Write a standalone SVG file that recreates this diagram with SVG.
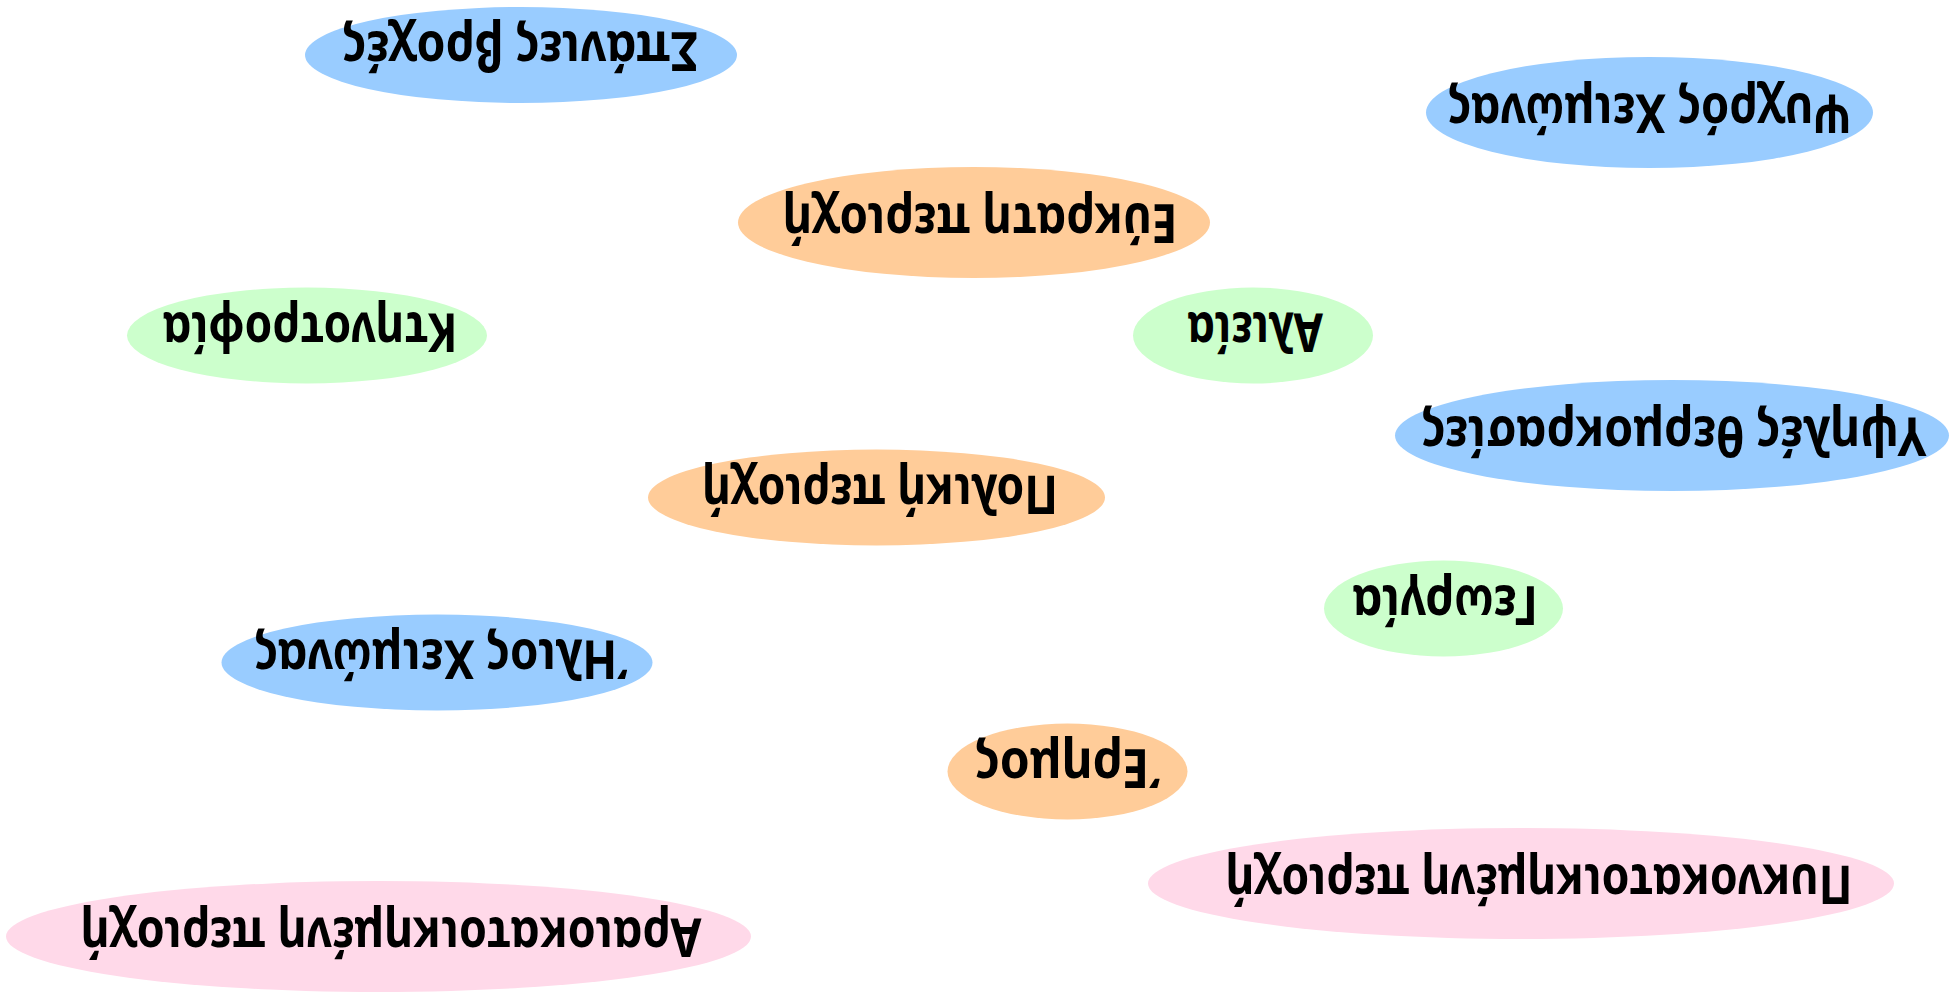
<svg xmlns="http://www.w3.org/2000/svg" width="1955" height="993" viewBox="0 0 1955 993">
<style>
.lbl{font-family:"Noto Sans","Open Sans",sans-serif;font-weight:700;font-size:54px;text-anchor:middle;fill:#000}
.blue{fill:#99ccff}.orange{fill:#ffcc99}.green{fill:#ccffcc}.pink{fill:#ffd9e9}
</style>
<rect width="1955" height="993" fill="#ffffff"/>
<g id="connectors"/>
<g id="n1" transform="rotate(180 521 55)"><ellipse class="blue" cx="521" cy="55" rx="216" ry="48"/><text class="lbl" x="522" y="78" textLength="355" lengthAdjust="spacingAndGlyphs">Σπάνιες βροχές</text></g>
<g id="n2" transform="rotate(180 1649.5 112.5)"><ellipse class="blue" cx="1649.5" cy="112.5" rx="223.5" ry="55.5"/><text class="lbl" x="1649" y="131.5" textLength="404" lengthAdjust="spacingAndGlyphs">Ψυχρός Χειμώνας</text></g>
<g id="n3" transform="rotate(180 974 222.5)"><ellipse class="orange" cx="974" cy="222.5" rx="236" ry="55.5"/><text class="lbl" x="968" y="241.5" textLength="395" lengthAdjust="spacingAndGlyphs">Εύκρατη περιοχή</text></g>
<g id="n4" transform="rotate(180 307 335.5)"><ellipse class="green" cx="307" cy="335.5" rx="180" ry="48"/><text class="lbl" x="304" y="358.5" textLength="295" lengthAdjust="spacingAndGlyphs">Κτηνοτροφία</text></g>
<g id="n5" transform="rotate(180 1253 335.5)"><ellipse class="green" cx="1253" cy="335.5" rx="120" ry="48"/><text class="lbl" x="1251" y="358.5" textLength="136" lengthAdjust="spacingAndGlyphs">Αλιεία</text></g>
<g id="n6" transform="rotate(180 1672 435.5)"><ellipse class="blue" cx="1672" cy="435.5" rx="277" ry="55.5"/><text class="lbl" x="1670" y="454.5" textLength="505" lengthAdjust="spacingAndGlyphs">Υψηλές θερμοκρασίες</text></g>
<g id="n7" transform="rotate(180 876.5 497.5)"><ellipse class="orange" cx="876.5" cy="497.5" rx="228.5" ry="48"/><text class="lbl" x="873" y="520.5" textLength="356" lengthAdjust="spacingAndGlyphs">Πολική περιοχή</text></g>
<g id="n8" transform="rotate(180 1443.5 608.5)"><ellipse class="green" cx="1443.5" cy="608.5" rx="119.5" ry="48"/><text class="lbl" x="1442" y="631.5" textLength="186" lengthAdjust="spacingAndGlyphs">Γεωργία</text></g>
<g id="n9" transform="rotate(180 437 662.5)"><ellipse class="blue" cx="437" cy="662.5" rx="215.5" ry="48"/><text class="lbl" x="433" y="685.5" textLength="373" lengthAdjust="spacingAndGlyphs">Ήλιος Χειμώνας</text></g>
<g id="n10" transform="rotate(180 1067.5 771.5)"><ellipse class="orange" cx="1067.5" cy="771.5" rx="120" ry="48"/><text class="lbl" x="1067.5" y="794.5" textLength="185" lengthAdjust="spacingAndGlyphs">Έρημος</text></g>
<g id="n11" transform="rotate(180 1521 883.5)"><ellipse class="pink" cx="1521" cy="883.5" rx="373" ry="55.5"/><text class="lbl" x="1503" y="902.5" textLength="627" lengthAdjust="spacingAndGlyphs">Πυκνοκατοικημένη περιοχή</text></g>
<g id="n12" transform="rotate(180 378.5 936.5)"><ellipse class="pink" cx="378.5" cy="936.5" rx="372.5" ry="55.5"/><text class="lbl" x="366" y="955.5" textLength="621" lengthAdjust="spacingAndGlyphs">Αραιοκατοικημένη περιοχή</text></g>
</svg>
